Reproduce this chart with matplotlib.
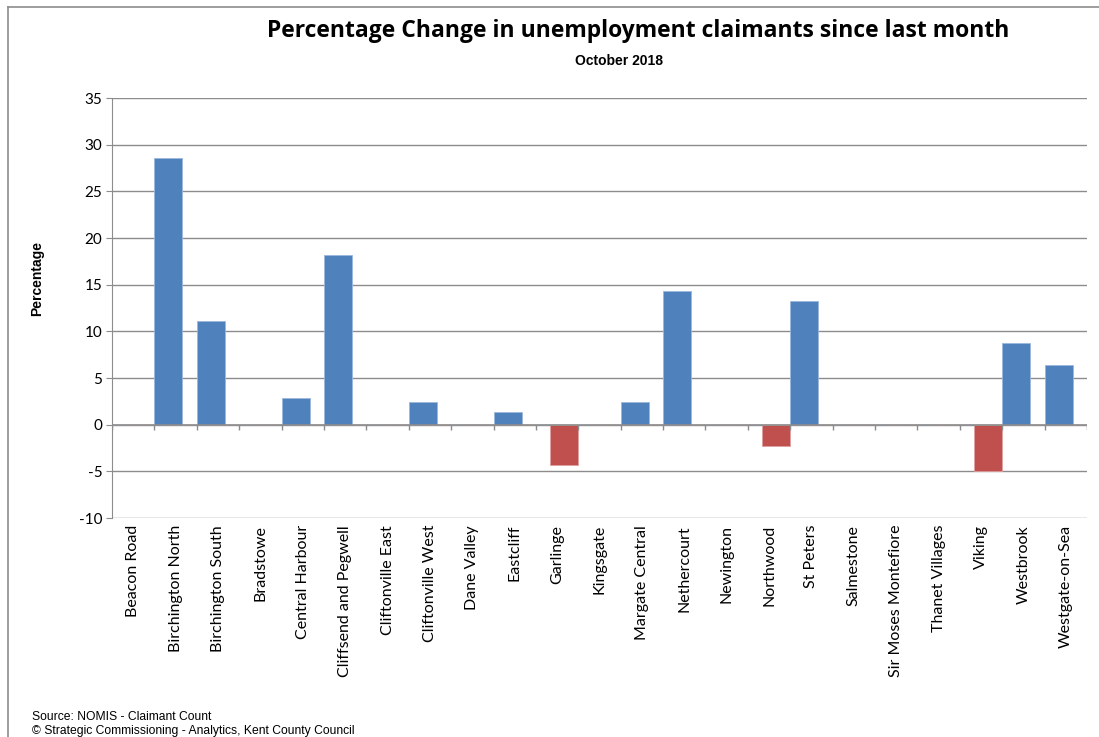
import matplotlib.pyplot as plt
import numpy as np
from matplotlib.lines import Line2D

# Dados
wards = ['Beacon Road', 'Birchington North', 'Birchington South', 'Bradstowe',
         'Central Harbour', 'Cliffsend and Pegwell', 'Cliftonville East',
         'Cliftonville West', 'Dane Valley', 'Eastcliff', 'Garlinge', 'Kingsgate',
         'Margate Central', 'Nethercourt', 'Newington', 'Northwood', 'St Peters',
         'Salmestone', 'Sir Moses Montefiore', 'Thanet Villages', 'Viking',
         'Westbrook', 'Westgate-on-Sea']
pct_change = [0, 28.6, 11.1, 0, 2.9, 18.2, 0, 2.4, 0, 1.4, -4.3, 0, 2.4, 14.3,
              0, -2.3, 13.3, 0, 0, 0, -5.0, 8.7, 6.4]
yticks = [-10, -5, 0, 5, 10, 15, 20, 25, 30, 35]

title = 'Percentage Change in unemployment claimants since last month'
subtitle = 'October 2018'

blue = '#4F81BD'
red = '#C0504D'

fig = plt.figure(figsize=(10.99, 7.37), dpi=100)
ax = fig.add_axes([112 / 1099, 1 - 518 / 737, 975 / 1099, 420 / 737])

# duas séries (aumento / queda), como no Excel
x = np.arange(len(wards))
vals = np.array(pct_change)
subida = np.where(vals > 0, vals, 0)
queda = np.where(vals < 0, vals, 0)
w = 0.66
ax.bar(x - 0.17, subida, width=w, color=blue, edgecolor='#9BB7DD', linewidth=0.6, zorder=3)
ax.bar(x + 0.17, queda, width=w, color=red, edgecolor='#E0A09E', linewidth=0.6, zorder=3)

ax.set_xlim(-0.5, len(wards) - 0.5)
ax.set_ylim(-10, 35)
ax.set_yticks(yticks)
ax.set_yticklabels([str(t) for t in yticks], fontfamily='Lato', fontsize=11)
ax.yaxis.grid(True, color='#8C8C8C', linewidth=1.0, zorder=0)
ax.tick_params(axis='y', length=4, color='#8C8C8C', pad=3)

# linha do zero com marcas entre categorias
ax.axhline(0, color='#8C8C8C', linewidth=1.2, zorder=4)
ax.vlines(np.arange(len(wards) + 1) - 0.5, -0.55, 0, color='#8C8C8C', linewidth=1.0, zorder=4)

ax.set_xticks(x)
ax.set_xticklabels(wards, rotation=90, fontfamily='Lato', fontsize=11.5)
ax.tick_params(axis='x', length=0, pad=5)

for s in ['top', 'right', 'bottom']:
    ax.spines[s].set_visible(False)
ax.spines['left'].set_color('#8C8C8C')

fig.text(37 / 1099, 1 - 278 / 737, 'Percentage', rotation=90, ha='center', va='center',
         fontfamily='Liberation Sans', fontweight='bold', fontsize=10)

fig.text(0.581, 0.958, title, ha='center', va='center', fontfamily='Open Sans',
         fontweight='bold', fontsize=16.5)
fig.text(0.563, 0.917, subtitle, ha='center', va='center', fontfamily='Liberation Sans',
         fontweight='bold', fontsize=10)

fig.text(32 / 1099, 1 - 717 / 737, 'Source: NOMIS - Claimant Count', fontfamily='Liberation Sans',
         fontsize=8.7, va='center')
fig.text(32 / 1099, 1 - 731 / 737, '\u00a9 Strategic Commissioning - Analytics, Kent County Council',
         fontfamily='Liberation Sans', fontsize=8.7, va='center')

# moldura
fig.add_artist(Line2D([8 / 1099, 1.0], [1 - 7 / 737, 1 - 7 / 737], color='#8C8C8C', linewidth=1.2))
fig.add_artist(Line2D([8 / 1099, 8 / 1099], [0, 1 - 7 / 737], color='#8C8C8C', linewidth=1.2))

fig.savefig('out.png', dpi=100)
